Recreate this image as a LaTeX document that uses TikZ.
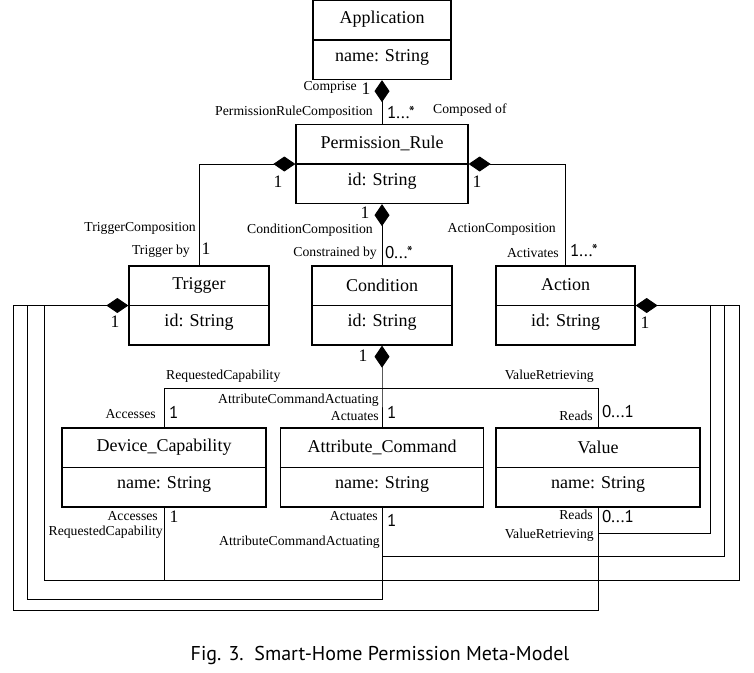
\documentclass[tikz,border=0pt]{standalone}
\usepackage{fontspec}
\setmainfont{Liberation Serif}
\newfontfamily\msans{PT Sans}
\usetikzlibrary{arrows.meta,calc}
\tikzset{
 cls/.style={draw, line width=1.3pt, rectangle, inner sep=0pt, minimum height=79pt},
 ttl/.style={font=\fontsize{18}{20}\selectfont, inner sep=0pt},
 lbl/.style={font=\fontsize{13.7}{15}\selectfont, inner sep=0pt},
 num/.style={font=\fontsize{17.5}{19}\selectfont, inner sep=0pt},
 mult/.style={font=\msans\fontsize{17}{19}\selectfont, inner sep=0pt},
 conn/.style={line width=0.9pt},
 comp/.style={conn, {Diamond[length=22pt,width=15pt]}-},
 capt/.style={font=\msans\fontsize{20}{22}\selectfont, inner sep=0pt},
}
\newcommand\umlbox[6]{%
 \node[cls, minimum width=#4pt] (#1) at (#2,#3) {};
 \draw[line width=1.3pt] (#1.west) -- (#1.east);
 \node[ttl] (#1-title) at ($(#1.center)+(0,-20.5)$) {#5};
 \node[ttl] (#1-attr) at ($(#1.center)+(0,17)$) {#6};
}
\begin{document}
\begin{tikzpicture}[x=1pt,y=-1pt]
\useasboundingbox (0,0) rectangle (754,672);
% classes
\umlbox{app}{382}{40}{138}{Application}{name: String}
\umlbox{pr}{382}{164}{172}{Permission\_Rule}{id: String}
\umlbox{trig}{199}{305.5}{140}{Trigger}{id: String}
\umlbox{cond}{382}{305.5}{140}{Condition}{id: String}
\umlbox{act}{565.5}{305.5}{139}{Action}{id: String}
\umlbox{dc}{164}{467.5}{204}{Device\_Capability}{name: String}
\umlbox{ac}{382}{467.5}{203}{Attribute\_Command}{name: String}
\umlbox{val}{598}{467.5}{204}{Value}{name: String}
% coordinates
\coordinate (hub) at (382,388);
\coordinate (tA) at (13,305.5);
\coordinate (tB) at (27,305.5);
\coordinate (tC) at (44,305.5);
\coordinate (aA) at (739,305.5);
\coordinate (aB) at (724,305.5);
\coordinate (aC) at (710,305.5);
\coordinate (yA) at (0,610);
\coordinate (yB) at (0,599);
\coordinate (yC) at (0,580);
\coordinate (yD) at (0,556);
\coordinate (yE) at (0,533);
% connectors
\draw[comp] (app.south) -- (pr.north);
\draw[comp] (pr.west) -| (trig.north);
\draw[comp] (pr.east) -| (act.north);
\draw[comp] (pr.south) -- (cond.north);
\draw[comp] (cond.south) -- (hub) -- (ac.north);
\draw[conn] (hub) -| (dc.north);
\draw[conn] (hub) -| (val.north);
\draw[comp] (trig.west) -- (tA) -- (tA |- yA) -| (val.south);
\draw[conn] (tB) -- (tB |- yB) -| (ac.south);
\draw[conn] (tC) -- (tC |- yC) -| (dc.south);
\draw[comp] (act.east) -- (aA) -- (aA |- yC) -| (dc.south);
\draw[conn] (aB) -- (aB |- yD) -| (ac.south);
\draw[conn] (aC) -- (aC |- yE) -| (val.south);
% labels: top
\node[lbl, anchor=east] (l1) at (357,87) {Comprise};
\node[num] (n1) at (366,89) {1};
\node[lbl, anchor=east] (l2) at (373,112) {PermissionRuleComposition};
\node[mult, anchor=west] (m1) at (387,113) {1...*};
\node[lbl, anchor=west] (l3) at (433,110) {Composed of};
\node[num] (n2) at (278,182) {1};
\node[num] (n3) at (477,182) {1};
\node[num] (n4) at (365,213) {1};
\node[lbl, anchor=east] (l4) at (373,230) {ConditionComposition};
\node[lbl, anchor=east] (l5) at (377,253) {Constrained by};
\node[mult, anchor=west] (m2) at (385,253) {0...*};
\node[lbl, anchor=east] (l6) at (196,228) {TriggerComposition};
\node[lbl, anchor=east] (l7) at (190,251) {Trigger by};
\node[num] (n5) at (206,249) {1};
\node[lbl, anchor=east] (l8) at (556,229) {ActionComposition};
\node[lbl, anchor=east] (l9) at (559,253) {Activates};
\node[mult, anchor=west] (m3) at (570,251) {1...*};
\node[num] (n6) at (115,322) {1};
\node[num] (n7) at (645,323) {1};
\node[num] (n8) at (363,356) {1};
% labels: middle
\node[lbl, anchor=west] (l10) at (166,376) {RequestedCapability};
\node[lbl, anchor=east] (l11) at (594,376) {ValueRetrieving};
\node[lbl, anchor=east] (l12) at (379,400) {AttributeCommandActuating};
\node[lbl, anchor=east] (l13) at (379,416) {Actuates};
\node[mult, anchor=west] (m4) at (387,412) {1};
\node[lbl, anchor=east] (l14) at (156,414) {Accesses};
\node[mult, anchor=west] (m5) at (169,412) {1};
\node[lbl, anchor=east] (l15) at (593,416) {Reads};
\node[mult, anchor=west] (m6) at (602,412) {0...1};
% labels: bottom
\node[lbl, anchor=east] (l16) at (158,516) {Accesses};
\node[lbl, anchor=east] (l17) at (163,532) {RequestedCapability};
\node[num] (n9) at (174,517) {1};
\node[lbl, anchor=east] (l18) at (378,516) {Actuates};
\node[lbl, anchor=east] (l19) at (380,542) {AttributeCommandActuating};
\node[mult, anchor=west] (m7) at (387,520) {1};
\node[lbl, anchor=east] (l20) at (593,515) {Reads};
\node[lbl, anchor=east] (l21) at (594,535) {ValueRetrieving};
\node[mult, anchor=west] (m8) at (602,517) {0...1};
% caption
\node[capt] (cap) at (380,655) {Fig. 3.\ \ Smart-Home Permission Meta-Model};
\end{tikzpicture}
\end{document}
